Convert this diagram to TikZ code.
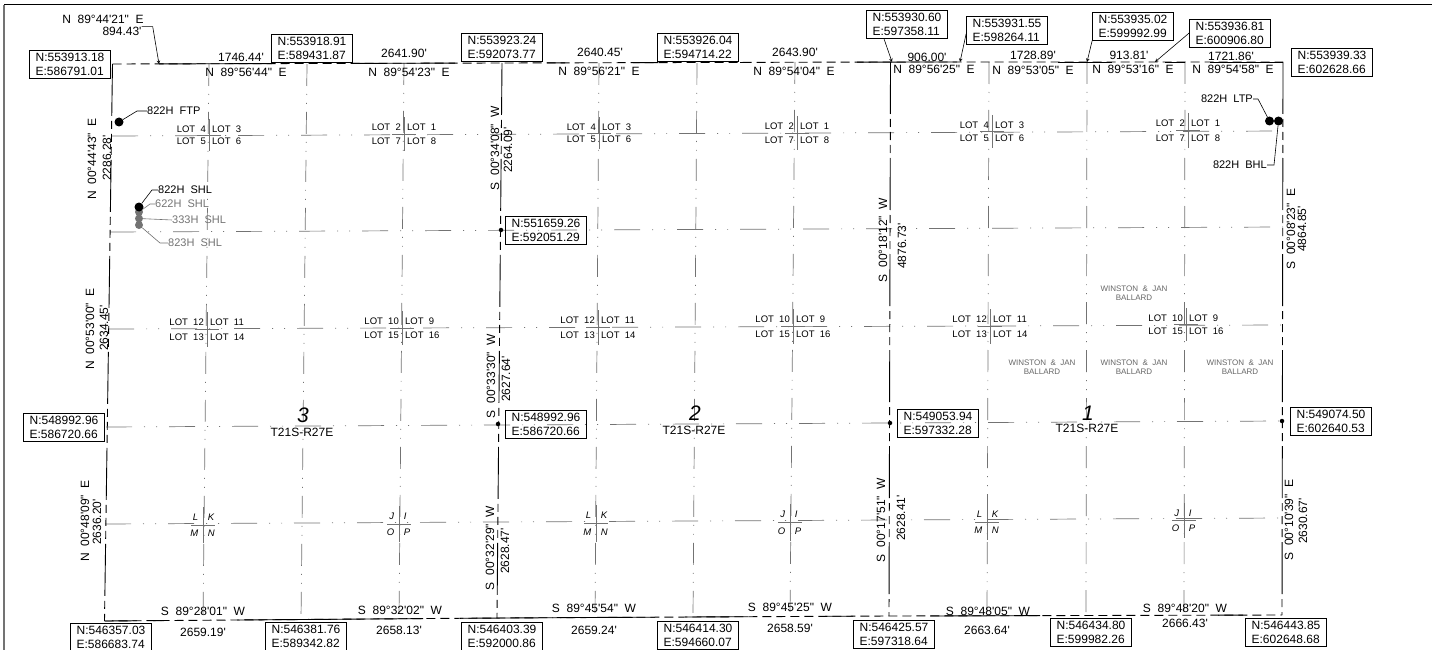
\documentclass[tikz,border=0pt]{standalone}
\usepackage{fontspec}
\usepackage{xcolor}
\newfontfamily\cadfont{Liberation Sans}
\tikzset{
    cadtext/.style={inner sep=0pt,font=\cadfont\fontsize{12}{14}\selectfont},
    coordbox/.style={cadtext,draw,line width=0.9pt,inner xsep=6pt,inner ysep=1.5pt,minimum height=28pt,align=left},
    vertlabel/.style={cadtext,rotate=90},
    lotlabel/.style={inner sep=0pt,font=\cadfont\fontsize{9.5}{11}\selectfont},
    ownerlabel/.style={inner sep=0pt,align=center,text=black!60,font=\cadfont\fontsize{8}{9.5}\selectfont},
    welllabel/.style={inner sep=0pt,font=\cadfont\fontsize{11}{13}\selectfont},
    sectionlabel/.style={inner sep=0pt,font=\cadfont\itshape\fontsize{21}{24}\selectfont},
    boundary/.style={line width=0.9pt,dash pattern=on 52pt off 5pt on 8pt off 5pt on 8pt off 5pt on 8pt off 5pt},
    sectiondash/.style={line width=0.9pt,dash pattern=on 9pt off 5pt},
    sectionsolid/.style={line width=0.9pt},
    quarterh/.style={line width=0.7pt,black!55,dash pattern=on 26pt off 12pt on 1pt off 11pt on 1pt off 12pt},
    quarterv/.style={line width=0.7pt,black!55,dash pattern=on 22pt off 8pt on 1pt off 8pt on 1pt off 8pt},
    crosstick/.style={line width=0.7pt,black!55},
    leader/.style={line width=0.6pt},
    wellblack/.style={circle,fill=black,inner sep=0pt,minimum size=9pt},
    wellgray/.style={circle,fill=black!55,inner sep=0pt,minimum size=8pt},
    cornerdot/.style={circle,fill=black,inner sep=0pt,minimum size=4.5pt},
}
\newcommand{\lotcross}[8]{
    \draw[crosstick] (#2-12,{(#3+#4)/2}) -- (#2+12,{(#3+#4)/2});
    \draw[crosstick] (#2,#3-10) -- (#2,#4+10);
    \node[lotlabel,anchor=east] (#1ul) at (#2-3,#3) {#5};
    \node[lotlabel,anchor=west] (#1ur) at (#2+3,#3) {#6};
    \node[lotlabel,anchor=east] (#1ll) at (#2-3,#4) {#7};
    \node[lotlabel,anchor=west] (#1lr) at (#2+3,#4) {#8};
}

\begin{document}
\begin{tikzpicture}[x=1pt,y=-1pt]
    \useasboundingbox (0,0) rectangle (1432,650);
    \draw[line width=1pt] (4,5) -- (1432,5);
    \draw[line width=1.5pt,black!55] (4,650) -- (4,5);

    % quarter lines
    \draw[quarterh] (112,136) -- (1283,131);
    \draw[quarterh] (110,232) -- (1283,227);
    \draw[quarterh] (108,329) -- (1282,325);
    \draw[quarterh] (106,427) -- (1282,421);
    \draw[quarterh] (105,524) -- (1282,518);
    \draw[quarterv] (209,64) -- (203,620);
    \draw[quarterv] (307,64) -- (301,620);
    \draw[quarterv] (404,63) -- (399,619);
    \draw[quarterv] (599,63) -- (595,618);
    \draw[quarterv] (697,63) -- (693,617);
    \draw[quarterv] (795,62) -- (790,617);
    \draw[quarterv] (989,62) -- (987,616);
    \draw[quarterv] (1087,62) -- (1086,616);
    \draw[quarterv] (1185,62) -- (1184,615);

    % section lines
    \draw[sectiondash] (112.5,64) -- (502,63) -- (890.5,62) -- (1283,62);
    \draw[sectiondash] (104.5,621) -- (497,618) -- (889,616) -- (1282,615);
    \draw[boundary] (112.5,64) -- (104.5,621);
    \draw[boundary] (502,63) -- (497,618);
    \draw[boundary] (890.5,62) -- (889,616);
    \draw[boundary] (1283,62) -- (1282,615);
    \draw[sectionsolid] (159,63.9) -- (272,63.6);
    \draw[sectionsolid] (353,63.4) -- (455,63.1);
    \draw[sectionsolid] (547,62.9) -- (565,62.85);
    \draw[sectionsolid] (633,62.7) -- (658,62.6);
    \draw[sectionsolid] (740,62.4) -- (750,62.4);
    \draw[sectionsolid] (857,62.1) -- (957,62);
    \draw[sectionsolid] (1058,62) -- (1112,62);
    \draw[sectionsolid] (1165,62) -- (1185,62);
    \draw[sectionsolid] (1210,62) -- (1283,62);
    \draw[sectionsolid] (105,621) -- (137,620.75);
    \draw[sectionsolid] (153,620.6) -- (168,620.5);
    \draw[sectionsolid] (237,620) -- (423,618.6);
    \draw[sectionsolid] (460,618.3) -- (553,617.7);
    \draw[sectionsolid] (560,617.6) -- (655,617.2);
    \draw[sectionsolid] (685,617) -- (748,616.7);
    \draw[sectionsolid] (825,616.3) -- (853,616.2);
    \draw[sectionsolid] (930,616) -- (1040,615.6);
    \draw[sectionsolid] (1218,615.2) -- (1243,615.1);

    % corners
    \node[coordbox] (cT) at (70,64) {N:553913.18\\E:586791.01};
    \node[coordbox] (cU) at (312,48) {N:553918.91\\E:589431.87};
    \node[coordbox] (cV) at (502,47) {N:553923.24\\E:592073.77};
    \node[coordbox] (cW) at (698,47) {N:553926.04\\E:594714.22};
    \node[coordbox] (cX) at (907,24) {N:553930.60\\E:597358.11};
    \node[coordbox] (cY) at (1007,30) {N:553931.55\\E:598264.11};
    \node[coordbox] (cZ) at (1133,26) {N:553935.02\\E:599992.99};
    \node[coordbox] (cA) at (1230,33) {N:553936.81\\E:600906.80};
    \node[coordbox] (cB) at (1332,62) {N:553939.33\\E:602628.66};
    \node[coordbox] (cC) at (546,230) {N:551659.26\\E:592051.29};
    \node[coordbox] (cD) at (64,427) {N:548992.96\\E:586720.66};
    \node[coordbox] (cE) at (546,424) {N:548992.96\\E:586720.66};
    \node[coordbox] (cF) at (938,423) {N:549053.94\\E:597332.28};
    \node[coordbox] (cG) at (1331,421) {N:549074.50\\E:602640.53};
    \node[coordbox] (cH) at (111,637) {N:546357.03\\E:586683.74};
    \node[coordbox] (cI) at (306,636) {N:546381.76\\E:589342.82};
    \node[coordbox] (cJ) at (502,636) {N:546403.39\\E:592000.86};
    \node[coordbox] (cK) at (698,635) {N:546414.30\\E:594660.07};
    \node[coordbox] (cL) at (894,634) {N:546425.57\\E:597318.64};
    \node[coordbox] (cM) at (1091,632) {N:546434.80\\E:599982.26};
    \node[coordbox] (cN) at (1286,632) {N:546443.85\\E:602648.68};

    \node[cornerdot] (dA) at (501,230) {};
    \node[cornerdot] (dB) at (498,424) {};
    \node[cornerdot] (dC) at (890,423) {};
    \node[cornerdot] (dD) at (1282,421) {};

    % calls along the north line
    \node[cadtext] (bA) at (103,19) {N~~89°44'21"~~E};
    \node[cadtext] (lA) at (122,31) {894.43'};
    \node[cadtext] (lB) at (241,57) {1746.44'};
    \node[cadtext] (bB) at (246,72) {N~~89°56'44"~~E};
    \node[cadtext] (lC) at (404,53) {2641.90'};
    \node[cadtext] (bC) at (409,72) {N~~89°54'23"~~E};
    \node[cadtext] (lD) at (600,52) {2640.45'};
    \node[cadtext] (bD) at (599,71) {N~~89°56'21"~~E};
    \node[cadtext] (lE) at (795,52) {2643.90'};
    \node[cadtext] (bE) at (794,71) {N~~89°54'04"~~E};
    \node[cadtext] (lF) at (927,57) {906.00'};
    \node[cadtext] (bF) at (934,69) {N~~89°56'25"~~E};
    \node[cadtext] (lG) at (1033,55) {1728.89'};
    \node[cadtext] (bG) at (1033,70) {N~~89°53'05"~~E};
    \node[cadtext] (lH) at (1129,55) {913.81'};
    \node[cadtext] (bH) at (1133,69) {N~~89°53'16"~~E};
    \node[cadtext] (lI) at (1231,56) {1721.86'};
    \node[cadtext] (bI) at (1233,69) {N~~89°54'58"~~E};

    % calls along the south line
    \node[cadtext] (bJ) at (203,611) {S~~89°28'01"~~W};
    \node[cadtext] (lJ) at (203,632) {2659.19'};
    \node[cadtext] (bK) at (400,610) {S~~89°32'02"~~W};
    \node[cadtext] (lK) at (399,630) {2658.13'};
    \node[cadtext] (bL) at (594,608) {S~~89°45'54"~~W};
    \node[cadtext] (lL) at (594,630) {2659.24'};
    \node[cadtext] (bM) at (790,607) {S~~89°45'25"~~W};
    \node[cadtext] (lM) at (790,628) {2658.59'};
    \node[cadtext] (bN) at (988,611) {S~~89°48'05"~~W};
    \node[cadtext] (lN) at (987,630) {2663.64'};
    \node[cadtext] (bO) at (1185,608) {S~~89°48'20"~~W};
    \node[cadtext] (lO) at (1185,623) {2666.43'};

    % calls along the verticals
    \node[vertlabel] (vA) at (92,159) {N~~00°44'43"~~E};
    \node[vertlabel] (vB) at (107,158) {2286.28'};
    \node[vertlabel] (vC) at (90,329) {N~~00°53'00"~~E};
    \node[vertlabel] (vD) at (104,328) {2634.45'};
    \node[vertlabel] (vE) at (85,521) {N~~00°48'09"~~E};
    \node[vertlabel] (vF) at (97,522) {2636.20'};
    \node[vertlabel] (vG) at (495,148) {S~~00°34'08"~~W};
    \node[vertlabel] (vH) at (508,150) {2264.09'};
    \node[vertlabel] (vI) at (491,376) {S~~00°33'30"~~W};
    \node[vertlabel] (vJ) at (506,379) {2627.64'};
    \node[vertlabel] (vK) at (490,548) {S~~00°32'29"~~W};
    \node[vertlabel] (vL) at (505,551) {2628.47'};
    \node[vertlabel] (vM) at (883,240) {S~~00°18'12"~~W};
    \node[vertlabel] (vN) at (902,246) {4876.73'};
    \node[vertlabel] (vO) at (881,520) {S~~00°17'51"~~W};
    \node[vertlabel] (vP) at (901,518) {2628.41'};
    \node[vertlabel] (vQ) at (1291,229) {S~~00°08'23"~~E};
    \node[vertlabel] (vR) at (1302,229) {4864.85'};
    \node[vertlabel] (vS) at (1289,520) {S~~00°10'39"~~E};
    \node[vertlabel] (vT) at (1303,521) {2630.67'};

    % lots, section 3
    \lotcross{sa}{209}{129}{141}{LOT~~4}{LOT~~3}{LOT~~5}{LOT~~6}
    \lotcross{sb}{404}{127}{141}{LOT~~2}{LOT~~1}{LOT~~7}{LOT~~8}
    \lotcross{sc}{207}{322}{337}{LOT~~12}{LOT~~11}{LOT~~13}{LOT~~14}
    \lotcross{sd}{402}{321}{335}{LOT~~10}{LOT~~9}{LOT~~15}{LOT~~16}
    \lotcross{se}{203}{517}{533}{\textit{L}\,}{\,\textit{K}}{\textit{M}\,}{\,\textit{N}}
    \lotcross{sf}{399}{516}{532}{\textit{J}\,}{\,\textit{I}}{\textit{O}\,}{\,\textit{P}}
    % lots, section 2
    \lotcross{sg}{599}{127}{139}{LOT~~4}{LOT~~3}{LOT~~5}{LOT~~6}
    \lotcross{sh}{797}{126}{140}{LOT~~2}{LOT~~1}{LOT~~7}{LOT~~8}
    \lotcross{si}{598}{320}{335}{LOT~~12}{LOT~~11}{LOT~~13}{LOT~~14}
    \lotcross{sj}{793}{319}{334}{LOT~~10}{LOT~~9}{LOT~~15}{LOT~~16}
    \lotcross{sk}{596}{515}{532}{\textit{L}\,}{\,\textit{K}}{\textit{M}\,}{\,\textit{N}}
    \lotcross{sl}{790}{514}{531}{\textit{J}\,}{\,\textit{I}}{\textit{O}\,}{\,\textit{P}}
    % lots, section 1
    \lotcross{sm}{992}{125}{138}{LOT~~4}{LOT~~3}{LOT~~5}{LOT~~6}
    \lotcross{sn}{1188}{123}{138}{LOT~~2}{LOT~~1}{LOT~~7}{LOT~~8}
    \lotcross{so}{990}{319}{334}{LOT~~12}{LOT~~11}{LOT~~13}{LOT~~14}
    \lotcross{sp}{1186}{318}{331}{LOT~~10}{LOT~~9}{LOT~~15}{LOT~~16}
    \lotcross{sq}{987}{514}{530}{\textit{L}\,}{\,\textit{K}}{\textit{M}\,}{\,\textit{N}}
    \lotcross{sr}{1184}{513}{528}{\textit{J}\,}{\,\textit{I}}{\textit{O}\,}{\,\textit{P}}

    \node[ownerlabel] (oA) at (1134,293) {WINSTON~~\&~~JAN\\BALLARD};
    \node[ownerlabel] (oB) at (1042,367) {WINSTON~~\&~~JAN\\BALLARD};
    \node[ownerlabel] (oC) at (1134,367) {WINSTON~~\&~~JAN\\BALLARD};
    \node[ownerlabel] (oD) at (1240,367) {WINSTON~~\&~~JAN\\BALLARD};

    \node[sectionlabel] (nA) at (303,415) {3};
    \node[cadtext] (tA) at (302,432) {T21S-R27E};
    \node[sectionlabel] (nB) at (695,413) {2};
    \node[cadtext] (tB) at (694,430) {T21S-R27E};
    \node[sectionlabel] (nC) at (1088,413) {1};
    \node[cadtext] (tC) at (1087,428) {T21S-R27E};

    % wells
    \node[wellblack] (wFTP) at (119,122) {};
    \node[wellgray] (wB) at (139,212) {};
    \node[wellgray] (wC) at (139,218.5) {};
    \node[wellgray] (wD) at (139,225) {};
    \node[wellblack] (wA) at (139,207) {};
    \node[wellblack] (wLTP) at (1269.5,121) {};
    \node[wellblack] (wBHL) at (1278.5,121) {};
    \node[welllabel,anchor=west] (fFTP) at (147,111) {822H~~FTP};
    \node[welllabel,anchor=west] (fA) at (158,190) {822H~~SHL};
    \node[welllabel,anchor=west,text=black!55] (fB) at (155,204) {622H~~SHL};
    \node[welllabel,anchor=west,text=black!55] (fC) at (172,220) {333H~~SHL};
    \node[welllabel,anchor=west,text=black!55] (fD) at (168,243) {823H~~SHL};
    \node[welllabel,anchor=east] (fLTP) at (1253,99) {822H~~LTP};
    \node[welllabel,anchor=east] (fBHL) at (1267,165) {822H~~BHL};

    \draw[leader] (fFTP.west) -- ++(-10,0) -- (wFTP);
    \draw[leader] (fA.west) -- ++(-6,0) -- (wA);
    \draw[leader,black!55] (fB.west) -- ++(-5,0) -- (wB);
    \draw[leader,black!55] (fC.west) -- (wC);
    \draw[leader,black!55] (fD.west) -- ++(-8,0) -- (wD);
    \draw[leader] (fLTP.east) -- ++(5,0) -- (wLTP);
    \draw[leader] (fBHL.east) -- ++(7,0) -- (wBHL);

    % arrows to the north line
    \coordinate (aA) at (159,64);
    \coordinate (aB) at (892,62);
    \coordinate (aC) at (960,62);
    \coordinate (aD) at (1087,62);
    \coordinate (aE) at (1155,62);
    \draw[leader,-stealth] (lA.north east) -- ++(11,0) -- (aA);
    \draw[leader,-stealth] (cX.212) -- (aB);
    \draw[leader,-stealth] (cY.185) -- (aC);
    \draw[leader,-stealth] (cZ.south west) -- (aD);
    \draw[leader,-stealth] (cA.west) -- (aE);
\end{tikzpicture}
\end{document}
